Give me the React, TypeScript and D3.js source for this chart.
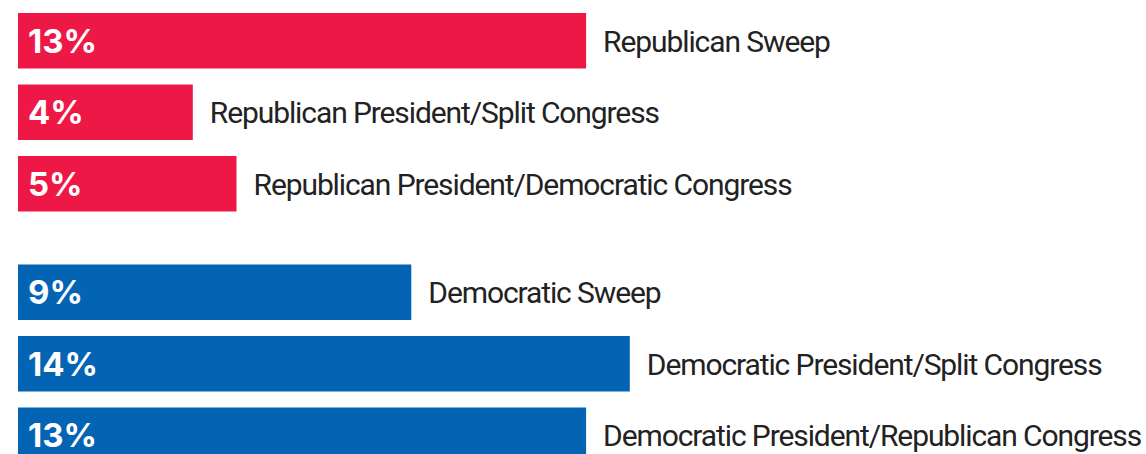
import React from "react";
import * as d3 from "d3";

const categories = [
  "Republican Sweep",
  "Republican President/Split Congress",
  "Republican President/Democratic Congress",
  "Democratic Sweep",
  "Democratic President/Split Congress",
  "Democratic President/Republican Congress",
];
const values = [13, 4, 5, 9, 14, 13];
const parties = ["R", "R", "R", "D", "D", "D"];

const W = 1146;
const H = 454;
const COLORS: Record<string, string> = { R: "#EE1846", D: "#0464B4" };
const GROUP_GAP = 37;

export default function App() {
  const x = d3.scaleLinear().domain([0, 1]).range([18, 61.7]);
  const step = 71.5;
  const gap = 16;
  const y = d3
    .scaleBand<string>()
    .domain(categories)
    .range([13, 13 + step * categories.length - gap])
    .paddingInner(gap / step)
    .paddingOuter(0);
  const bh = y.bandwidth();
  const yPos = (i: number) =>
    (y(categories[i]) as number) + (parties[i] === "D" ? GROUP_GAP : 0);

  return (
    <svg
      width={W}
      height={H}
      style={{ position: "absolute", left: 0, top: 0, background: "#fff" }}
    >
      {categories.map((c, i) => {
        const y0 = yPos(i);
        const cy = y0 + bh / 2;
        return (
          <g key={c}>
            <rect
              x={x(0)}
              y={y0}
              width={x(values[i]) - x(0)}
              height={bh}
              fill={COLORS[parties[i]]}
            />
            <text
              x={28}
              y={cy + 12}
              fill="#fff"
              fontFamily="Inter, Roboto, sans-serif"
              fontWeight={700}
              fontSize={33}
              letterSpacing={0}
            >
              {values[i]}%
            </text>
            <text
              x={x(values[i]) + 17}
              y={cy + 11}
              fill="#222"
              fontFamily="Roboto, sans-serif"
              fontWeight={400}
              fontSize={30}
              letterSpacing={-1.1}
            >
              {c}
            </text>
          </g>
        );
      })}
    </svg>
  );
}
